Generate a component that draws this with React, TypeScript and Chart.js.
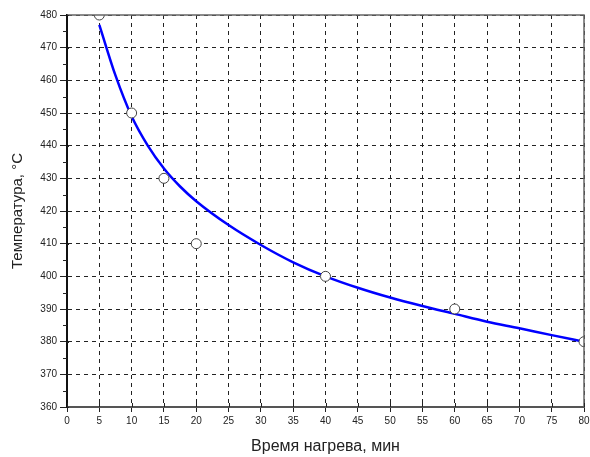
import React, { useEffect, useRef } from "react";
import { Chart, registerables } from "chart.js";

Chart.register(...registerables);

// Measured data points (open circles)
const pointTimes = [5, 10, 15, 20, 40, 60, 80];
const pointTemps = [480, 450, 430, 410, 400, 390, 380];

// Fitted curve
const curveTimes = [5, 7.5, 10, 12.5, 15, 17.5, 20, 25, 30, 35, 40, 45, 50, 55, 60, 65, 70, 75, 80];
const curveTemps = [477, 461.5, 449, 440, 433, 427.5, 423, 415.7, 409.6, 404.3, 400, 396.5, 393.5, 390.9, 388.5, 386.1, 384.1, 382, 380];

const xTitle = "Время нагрева, мин";
const yTitle = "Температура, °C";
const xMin = 0, xMax = 80, xStep = 5;
const yMin = 360, yMax = 480, yStep = 10;
const yMinorTicks = [365, 375, 385, 395, 405, 415, 425, 435, 445, 455, 465, 475];

const FONT = "'Liberation Sans', Arial, sans-serif";

const framePlugin = {
  id: "frame",
  afterDatasetsDraw(chart: any) {
    const { ctx, chartArea, scales } = chart;
    const { left, right, top, bottom } = chartArea;
    ctx.save();
    ctx.strokeStyle = "#666";
    ctx.lineWidth = 1.5;
    ctx.beginPath();
    ctx.moveTo(left, top);
    ctx.lineTo(right, top);
    ctx.lineTo(right, bottom);
    ctx.stroke();
    ctx.strokeStyle = "#222";
    ctx.lineWidth = 1;
    ctx.beginPath();
    for (const v of yMinorTicks) {
      const y = Math.round(scales.y.getPixelForValue(v)) + 0.5;
      ctx.moveTo(left - 4, y);
      ctx.lineTo(left, y);
    }
    for (let v = xMin; v <= xMax; v += xStep) {
      const x = Math.round(scales.x.getPixelForValue(v)) + 0.5;
      ctx.moveTo(x, bottom);
      ctx.lineTo(x, bottom - 4);
    }
    for (let v = yMin; v <= yMax; v += yStep) {
      const y = Math.round(scales.y.getPixelForValue(v)) + 0.5;
      ctx.moveTo(left, y);
      ctx.lineTo(left + 2, y);
    }
    ctx.stroke();
    ctx.restore();
  },
};

export default function App() {
  const ref = useRef<HTMLCanvasElement | null>(null);

  useEffect(() => {
    document.body.style.margin = "0";
    const canvas = ref.current;
    if (!canvas) return;

    const points = pointTimes.map((t, i) => ({ x: t, y: pointTemps[i] }));
    const curve = curveTimes.map((t, i) => ({ x: t, y: curveTemps[i] }));

    const chart = new Chart(canvas, {
      type: "scatter",
      data: {
        datasets: [
          {
            label: "points",
            data: points,
            pointRadius: 5,
            pointHoverRadius: 5,
            pointBackgroundColor: "#ffffff",
            pointBorderColor: "#444",
            pointBorderWidth: 1,
            showLine: false,
            clip: 0,
            order: 0,
          },
          {
            label: "curve",
            data: curve,
            showLine: true,
            pointRadius: 0,
            borderColor: "#0000ff",
            borderWidth: 2.5,
            cubicInterpolationMode: "monotone",
            clip: 0,
            order: 1,
          },
        ],
      },
      options: {
        responsive: false,
        animation: false,
        events: [],
        layout: { padding: { top: 15, right: 4, left: 0, bottom: 0 } },
        plugins: {
          legend: { display: false },
          tooltip: { enabled: false },
        },
        scales: {
          x: {
            type: "linear",
            min: xMin,
            max: xMax,
            ticks: {
              stepSize: xStep,
              font: { family: FONT, size: 10 },
              color: "#222",
              padding: 3,
              maxRotation: 0,
            },
            grid: {
              color: "#222",
              lineWidth: 1,
              tickBorderDash: [],
              tickColor: "#222",
              tickLength: 5,
            },
            border: { display: true, color: "#555", width: 2, dash: [4, 4] },
            title: {
              display: true,
              text: xTitle,
              font: { family: FONT, size: 16 },
              color: "#222",
              padding: { top: 0, bottom: 1 },
            },
            afterFit(scale: any) {
              scale.height = 50;
              scale.paddingLeft = 0;
              scale.paddingRight = 0;
            },
          },
          y: {
            type: "linear",
            min: yMin,
            max: yMax,
            ticks: {
              stepSize: yStep,
              font: { family: FONT, size: 10 },
              color: "#222",
              padding: 3,
            },
            grid: {
              color: "#222",
              lineWidth: 1,
              tickBorderDash: [],
              tickColor: "#222",
              tickLength: 7,
            },
            border: { display: true, color: "#111", width: 2, dash: [4, 4] },
            title: {
              display: true,
              text: yTitle,
              font: { family: FONT, size: 15 },
              color: "#222",
              padding: { top: 9, bottom: 0 },
            },
            afterFit(scale: any) {
              scale.width = 67;
              scale.paddingTop = 0;
              scale.paddingBottom = 0;
            },
          },
        },
      },
      plugins: [framePlugin],
    } as any);

    return () => chart.destroy();
  }, []);

  return (
    <div style={{ width: 590, height: 457 }}>
      <canvas ref={ref} width={590} height={457} style={{ display: "block", width: 590, height: 457 }} />
    </div>
  );
}
